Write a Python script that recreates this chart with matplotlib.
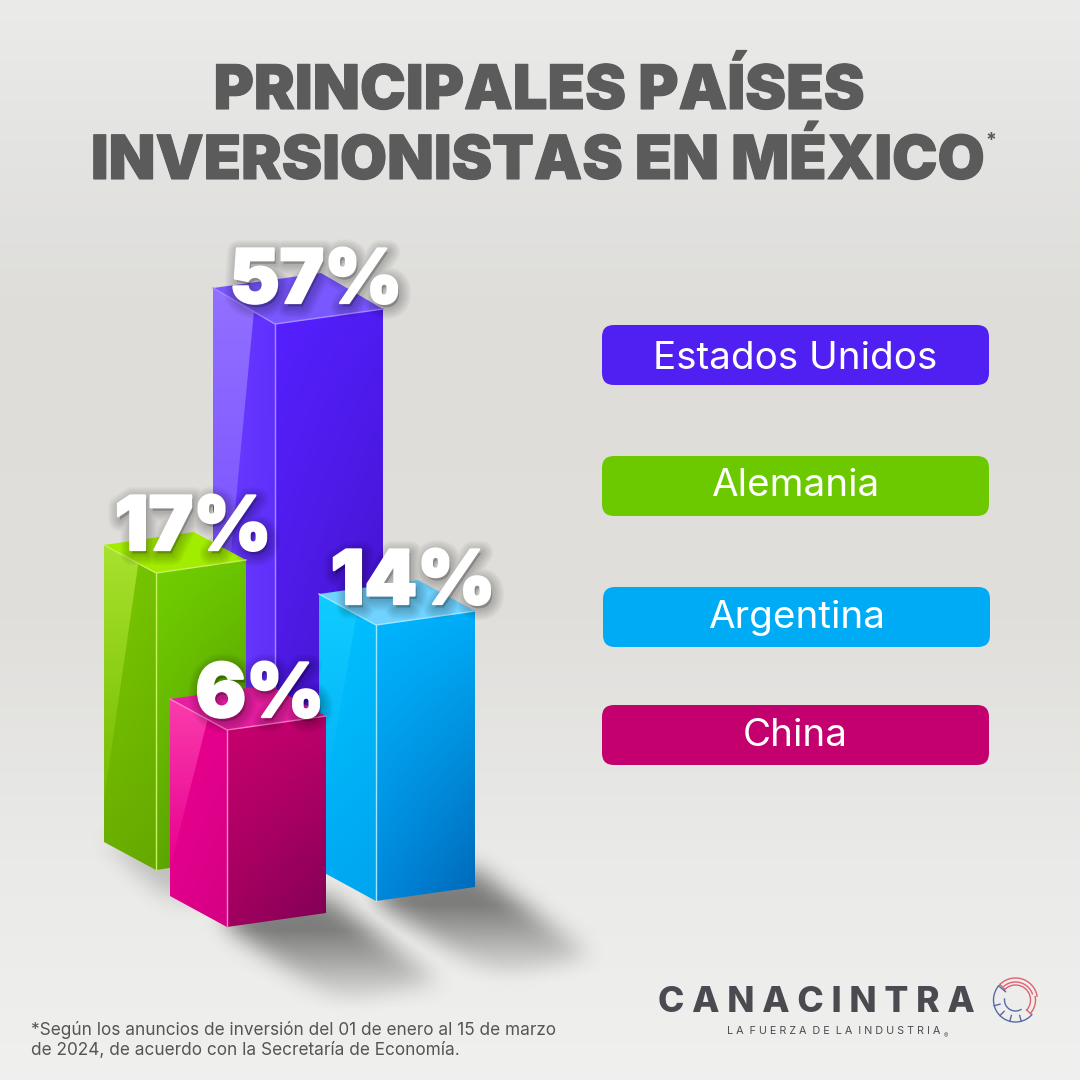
import numpy as np
import matplotlib
matplotlib.use("Agg")
import matplotlib.pyplot as plt
import matplotlib.patheffects as pe
from matplotlib.colors import to_rgb
from matplotlib.path import Path
from matplotlib.patches import FancyBboxPatch, Polygon

# ---- data -------------------------------------------------------------
countries = ["Estados Unidos", "Alemania", "Argentina", "China"]
shares = [57, 17, 14, 6]
share_labels = ["57%", "17%", "14%", "6%"]
title_lines = ["PRINCIPALES PAÍSES", "INVERSIONISTAS EN MÉXICO"]
footnote = ["*Según los anuncios de inversión del 01 de enero al 15 de marzo",
            "de 2024, de acuerdo con la Secretaría de Economía."]

# the artwork's value axis is not linear: share -> drawn height (px)
axis_share = [6, 14, 17, 57]
axis_px = [197, 276, 297, 526]

# ---- layout -----------------------------------------------------------
W = 1080
x_left = [213, 104, 319, 170]
x_front = [275, 156, 376, 227]
x_right = [383, 246, 475, 326]
y_base = [850, 870, 901, 927]
rise_left = [36, 28, 31, 31]
rise_right = [15, 13, 14, 14]
draw_order = [0, 1, 2, 3]
label_xy = [(316, 303), (193, 550), (413, 604), (260, 717)]
pill_x = [602, 602, 603, 602]
pill_y = [325, 456, 587, 705]
pill_base = [369, 496, 628, 746]
pill_colors = ["#5020F2", "#6CC900", "#00ABF6", "#C3006E"]

# colours: right face TL TR BL BR, left face TL TR BL BR, gloss top/bottom, top face
right_face = [("#5520FF", "#4F1CF2", "#4A18D8", "#3F0FB8"),
              ("#72D000", "#6AC400", "#5EA800", "#4F8E00"),
              ("#00B6FF", "#00ACF8", "#0088DC", "#0068B8"),
              ("#C8006E", "#BE006C", "#A0005F", "#800055")]
left_face = [("#6A3CFF", "#6030FF", "#6A3CFF", "#6030F5"),
             ("#7CCB00", "#74C400", "#6AAE00", "#66A800"),
             ("#00C6FF", "#00BEFF", "#00A8F4", "#00A4EE"),
             ("#EC0090", "#E6008C", "#E0008A", "#D40084")]
gloss = [("#9270FF", "#6D42FF"), ("#A8E22E", "#74BC00"),
         ("#10CCFF", "#00AEF6"), ("#FA3CAC", "#E8008F")]
top_face = ["#7A58FF", "#A2EC00", "#6FD2FF", "#E81EA2"]
edge = ["#A88CFF", "#C8F060", "#A0E8FF", "#FF80CC"]

plt.rcParams["font.family"] = ["Inter", "DejaVu Sans"]
fig = plt.figure(figsize=(10.8, 10.8), dpi=100)
ax = fig.add_axes([0, 0, 1, 1])
ax.set_xlim(0, W)
ax.set_ylim(W, 0)
ax.axis("off")


def hex_grid(c, n=64):
    tl, tr, bl, br = [np.array(to_rgb(k)) for k in c]
    u, v = np.meshgrid(np.linspace(0, 1, n), np.linspace(0, 1, n))
    u, v = u[..., None], v[..., None]
    return (1 - v) * ((1 - u) * tl + u * tr) + v * ((1 - u) * bl + u * br)


def shade(poly, colors, z):
    poly = np.asarray(poly, float)
    x0, y0 = poly.min(axis=0)
    x1, y1 = poly.max(axis=0)
    im = ax.imshow(hex_grid(colors), extent=(x0, x1, y1, y0), aspect="auto",
                   interpolation="bilinear", zorder=z)
    im.set_clip_path(Polygon(poly, closed=True, transform=ax.transData))


# background
stops_y = [0, 140, 320, 620, 860, 1080]
stops_v = ["#EBEBEA", "#E4E4E2", "#DEDDDA", "#E0DFDC", "#EAEAE8", "#F0F0EF"]
rgb = np.array([to_rgb(c) for c in stops_v])
ys = np.arange(W)
bg = np.stack([np.interp(ys, stops_y, rgb[:, i]) for i in range(3)], axis=1)[:, None, :]
ax.imshow(bg, extent=(0, W, W, 0), aspect="auto", zorder=0)


# soft cast shadows
def blur(a, r, passes=3):
    k = np.ones(2 * r + 1) / (2 * r + 1)
    for _ in range(passes):
        a = np.apply_along_axis(lambda m: np.convolve(m, k, mode="same"), 0, a)
        a = np.apply_along_axis(lambda m: np.convolve(m, k, mode="same"), 1, a)
    return a


gx, gy = np.meshgrid(np.arange(0, W, 2) + 1, np.arange(0, W, 2) + 1)
pts = np.c_[gx.ravel(), gy.ravel()]
shadow_polys = [([(376, 880), (475, 868), (590, 958), (505, 990), (380, 905)], 905, 985, .58, 5),
                ([(227, 905), (326, 895), (440, 985), (345, 1012), (230, 930)], 930, 1012, .58, 5),
                ([(104, 835), (156, 860), (240, 860), (240, 905), (170, 905)], 855, 930, .34, 5)]
total = np.zeros(gx.shape)
for poly, fade0, fade1, strength, r in shadow_polys:
    m = Path(poly).contains_points(pts).reshape(gx.shape).astype(float)
    m = blur(m, r)
    total = np.maximum(total, m * strength * np.clip((fade1 - gy) / (fade1 - fade0), 0.03, 1))
rgba = np.zeros(gx.shape + (4,))
rgba[..., :3] = 0.18
rgba[..., 3] = total
ax.imshow(rgba, extent=(0, W, W, 0), aspect="auto", zorder=1)
ax.set_xlim(0, W)
ax.set_ylim(W, 0)


class SoftShadow(pe.Stroke):
    """A stroke whose fill is the translucent shadow colour, not the text colour."""
    def draw_path(self, renderer, gc, tpath, affine, rgbFace):
        super().draw_path(renderer, gc, tpath, affine, (0, 0, 0, .028))


label_shadow = [SoftShadow(linewidth=w, foreground=(0, 0, 0, .028), offset=(1.5, -2.5))
                for w in (17, 15, 13, 11, 9, 7, 5, 3)]

# 3-D bars
for j, i in enumerate(draw_order):
    z = 2 + j
    h = float(np.interp(shares[i], axis_share, axis_px))
    xl, xf, xr = x_left[i], x_front[i], x_right[i]
    fb = y_base[i]
    ft = fb - h
    lb, lt = fb - rise_left[i], ft - rise_left[i]
    rb, rt = fb - rise_right[i], ft - rise_right[i]
    back = (xl + xr - xf, lt + rt - ft)
    shade([(xf, ft), (xr, rt), (xr, rb), (xf, fb)], right_face[i], z)
    shade([(xl, lt), (xf, ft), (xf, fb), (xl, lb)], left_face[i], z)
    # gloss band on the left face
    gx0 = xl + 0.66 * (xf - xl)
    gy0 = lt + 0.66 * (ft - lt)
    gy1 = lt + 0.86 * (lb - lt)
    shade([(xl, lt), (gx0, gy0), (xl, gy1)],
          (gloss[i][0], gloss[i][0], gloss[i][1], gloss[i][1]), z)
    ax.add_patch(Polygon([(xl, lt), (xf, ft), (xr, rt), back], closed=True,
                         fc=top_face[i], ec="none", zorder=z))
    ax.plot([xl, xf, xr], [lt, ft, rt], color=edge[i], lw=1.0, zorder=z, solid_joinstyle="miter")
    ax.plot([xf, xf], [ft, fb], color=edge[i], lw=1.0, zorder=z)
    # value label with soft drop shadow
    ax.text(*label_xy[i], share_labels[i], ha="center", va="baseline", color="white",
            fontsize=54, fontweight=900, zorder=20,
            path_effects=label_shadow + [pe.Stroke(linewidth=1.6, foreground="white"), pe.Normal()])

# legend pills
for i, name in enumerate(countries):
    ax.add_patch(FancyBboxPatch((pill_x[i] + 12, pill_y[i] + 12), 387 - 24, 60 - 24,
                                boxstyle="round,pad=12,rounding_size=12",
                                fc=pill_colors[i], ec="none", zorder=6))
    ax.text(pill_x[i] + 193.5, pill_base[i], name, ha="center", va="baseline",
            color="white", fontsize=27.8, zorder=7)

# title
title_pe = [pe.Stroke(linewidth=0.8, foreground="#5B5B5B"), pe.Normal()]
ax.text(539, 109, title_lines[0], ha="center", va="baseline", color="#5B5B5B",
        fontsize=44.2, fontweight=900, path_effects=title_pe, zorder=8)
ax.text(538, 179, title_lines[1], ha="center", va="baseline", color="#5B5B5B",
        fontsize=43.8, fontweight=900, path_effects=title_pe, zorder=8)
ax.text(985, 146, "*", ha="left", va="baseline", color="#5B5B5B", fontsize=14,
        fontweight="bold", zorder=8)

# footnote
ax.text(31, 1035, footnote[0], ha="left", va="baseline", color="#555555", fontsize=12.4, zorder=8)
ax.text(31, 1055, footnote[1], ha="left", va="baseline", color="#555555", fontsize=12.4, zorder=8)

# logo
ax.text(816, 1012, "C A N A C I N T R A", ha="center", va="baseline", color="#4A4A50",
        fontsize=25.6, fontweight=800, zorder=8)
ax.text(834, 1034, "L A  F U E R Z A  D E  L A  I N D U S T R I A", ha="center", va="baseline",
        color="#4A4A50", fontsize=7.75, zorder=8)
ax.text(944, 1038, "®", ha="left", va="baseline", color="#4A4A50", fontsize=4.5, zorder=8)


def arc(cx, cy, r, a0, a1, color, lw=1.0):
    t = np.radians(np.linspace(a0, a1, 60))
    ax.plot(cx + r * np.cos(t), cy - r * np.sin(t), color=color, lw=lw, zorder=8)


def spoke(cx, cy, r0, r1, a, color):
    t = np.radians(a)
    ax.plot([cx + r0 * np.cos(t), cx + r1 * np.cos(t)],
            [cy - r0 * np.sin(t), cy - r1 * np.sin(t)], color=color, lw=1.0, zorder=8)


red, blue = "#E0626E", "#5A6AA8"
ecx, ecy = 1015.5, 1000
arc(ecx, ecy, 22, 10, 135, red)
arc(ecx, ecy, 20, -42, 10, red)
arc(ecx, ecy, 18, 20, 130, red)
arc(ecx, ecy, 15, -42, 140, red)
spoke(ecx, ecy, 15, 22, 135, red)
spoke(ecx, ecy, 15, 21, -42, red)
arc(ecx, ecy, 22, 140, 318, blue)
arc(ecx, ecy, 11, 175, 300, blue)
spoke(ecx, ecy, 13, 22, 140, blue)
for a in (195, 225, 255, 285):
    spoke(ecx, ecy, 16, 22, a, blue)

fig.savefig("out.png", dpi=100)
